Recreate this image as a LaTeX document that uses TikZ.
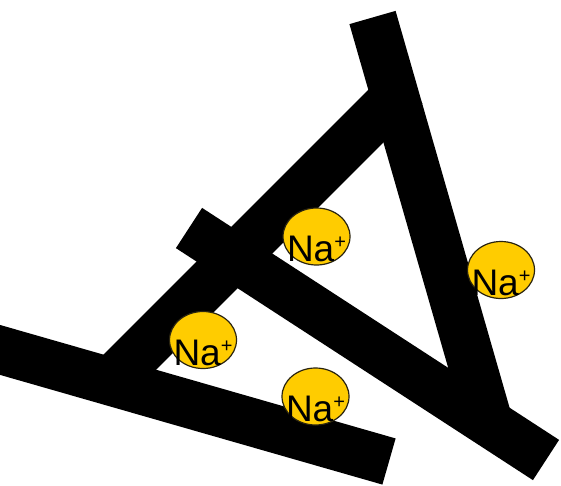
\documentclass[tikz,border=0pt]{standalone}
\usepackage{fontspec}
\setmainfont{Liberation Sans}
\definecolor{naYellow}{HTML}{FFCC00}
\definecolor{naEdge}{HTML}{2A2410}
\tikzset{
  bar/.style={line width=48pt, line cap=butt, draw=black},
  ion/.style={ellipse, draw=naEdge, line width=1.2pt, fill=naYellow,
    minimum width=67pt, minimum height=57pt, inner sep=0pt},
  ionlabel/.style={anchor=base, inner sep=0pt, font=\fontsize{37}{37}\selectfont, text=black}
}
\usetikzlibrary{shapes.geometric}
\newcommand{\naplus}{Na{\fontsize{20}{20}\selectfont\raisebox{13pt}{+}}}
\begin{document}
\begin{tikzpicture}[x=1pt,y=-1pt]
\useasboundingbox (0,0) rectangle (561,485);
\clip (0,0) rectangle (561,485);
% bar end points
\coordinate (b1) at (-30,341.3);
\coordinate (b2) at (389,461.5);
\coordinate (d1) at (110,382);
\coordinate (d2) at (405.5,86.5);
\coordinate (c1) at (189,228);
\coordinate (c2) at (546,460);
\coordinate (s1) at (372.5,17.5);
\coordinate (s2) at (489,423);
% bars
\draw[bar] (b1) -- (b2);
\draw[bar] (d1) -- (d2);
\draw[bar] (c1) -- (c2);
\draw[bar] (s1) -- (s2);
% ions
\node[ion] (n1) at (316.5,236.5) {};
\node[ion] (n2) at (203,340) {};
\node[ion] (n3) at (501,270) {};
\node[ion] (n4) at (315.5,396.5) {};
\node[ionlabel] (t1) at (316.5,261.5) {\naplus};
\node[ionlabel] (t2) at (203,365) {\naplus};
\node[ionlabel] (t3) at (501,295) {\naplus};
\node[ionlabel] (t4) at (315.5,421.5) {\naplus};
\end{tikzpicture}
\end{document}
